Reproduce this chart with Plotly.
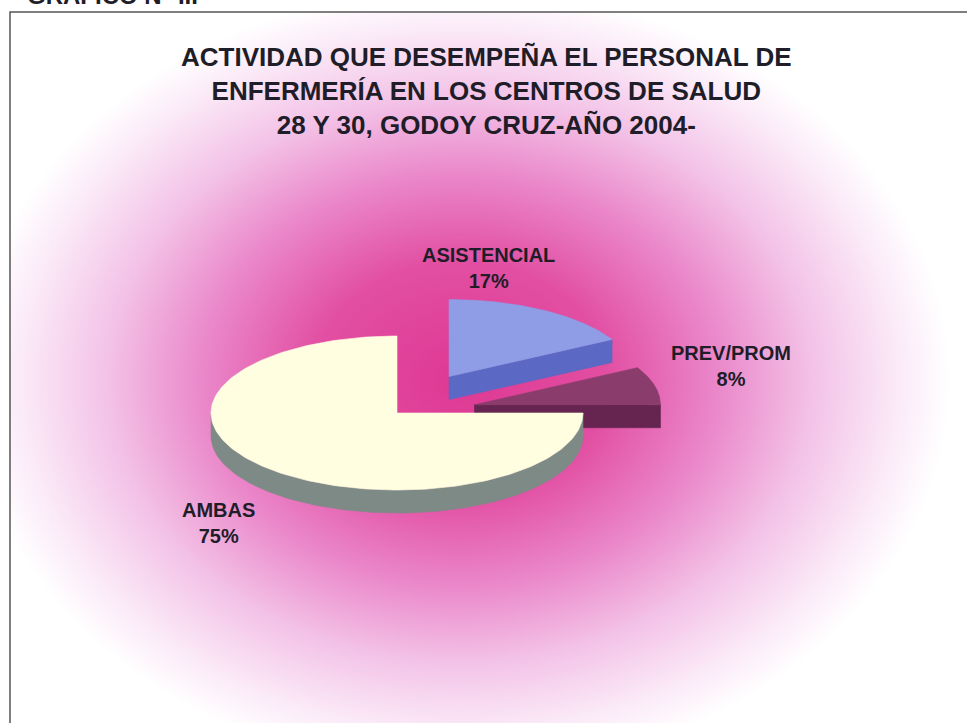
import base64
import numpy as np
import plotly.graph_objects as go

# ---------------- data ----------------
categories = ["ASISTENCIAL", "PREV/PROM", "AMBAS"]
percent = [17, 8, 75]
title_lines = [
    "ACTIVIDAD QUE DESEMPEÑA EL PERSONAL DE",
    "ENFERMERÍA EN LOS CENTROS DE SALUD",
    "28 Y 30, GODOY CRUZ-AÑO 2004-",
]
header_text = "GRÁFICO N° III"

# ---------------- style ----------------
W, H = 967, 723
CX, CY = 397, 413          # pie centre (px)
RA, RB = 186, 77           # ellipse semi-axes (px)
DEPTH = 23                 # pie thickness (px)
explode = {"ASISTENCIAL": 0.55, "PREV/PROM": 0.43, "AMBAS": 0.0}
top_color = {"ASISTENCIAL": "#8F9CE6", "PREV/PROM": "#8A3D6C", "AMBAS": "#FFFEE0"}
side_color = {"ASISTENCIAL": "#5B68C4", "PREV/PROM": "#652550", "AMBAS": "#7E8A86"}
label_pos = {"ASISTENCIAL": (488, 268), "PREV/PROM": (731, 366), "AMBAS": (218, 523)}
FONT = "Liberation Sans, Arial, sans-serif"
TEXT_COLOR = "#1E1D28"

fig = go.Figure()


def poly(xs, ys, color):
    fig.add_trace(go.Scatter(
        x=list(xs) + [xs[0]], y=list(ys) + [ys[0]], mode="lines",
        fill="toself", fillcolor=color,
        line=dict(color=color, width=0.6),
        hoverinfo="skip", showlegend=False))


# angles: start at 12 o'clock, clockwise
slices = []
acc = 0.0
for cat, p in zip(categories, percent):
    th_hi = 90.0 - acc * 3.6
    th_lo = th_hi - p * 3.6
    acc += p
    mid = np.radians((th_hi + th_lo) / 2)
    e = explode[cat]
    ox = e * RA * np.cos(mid)
    oy = -e * RB * np.sin(mid)
    slices.append(dict(cat=cat, lo=th_lo, hi=th_hi, vx=CX + ox, vy=CY + oy))

# painter's order: back (smaller y) first
slices.sort(key=lambda s: s["vy"])

for s in slices:
    vx, vy, cat = s["vx"], s["vy"], s["cat"]
    th = np.radians(np.linspace(s["lo"], s["hi"], 200))
    ax = vx + RA * np.cos(th)
    ay = vy - RB * np.sin(th)
    # outer curved side (front-facing part)
    front = np.sin(th) <= 1e-9
    idx = np.where(front)[0]
    if len(idx) > 1:
        runs = np.split(idx, np.where(np.diff(idx) != 1)[0] + 1)
        for r in runs:
            if len(r) < 2:
                continue
            xs = np.concatenate([ax[r], ax[r][::-1]])
            ys = np.concatenate([ay[r], ay[r][::-1] + DEPTH])
            poly(xs, ys, side_color[cat])
    # cut faces
    for ang, vis in ((s["lo"], np.cos(np.radians(s["lo"])) > 1e-6),
                     (s["hi"], np.cos(np.radians(s["hi"])) < -1e-6)):
        if vis:
            px = vx + RA * np.cos(np.radians(ang))
            py = vy - RB * np.sin(np.radians(ang))
            poly([vx, px, px, vx], [vy, py, py + DEPTH, vy + DEPTH], side_color[cat])
    # top face
    poly(np.concatenate([[vx], ax]), np.concatenate([[vy], ay]), top_color[cat])

# labels
for cat, p in zip(categories, percent):
    lx, ly = label_pos[cat]
    fig.add_annotation(x=lx, y=ly, xref="x", yref="y", showarrow=False,
                       text=f"<b>{cat}<br>{p}%</b>", align="center",
                       font=dict(family=FONT, size=20, color=TEXT_COLOR))

# title
fig.add_annotation(x=486, y=91, xref="x", yref="y", showarrow=False,
                   text="<b>" + "<br>".join(title_lines) + "</b>", align="center",
                   yanchor="middle",
                   font=dict(family=FONT, size=26, color=TEXT_COLOR))
# cut-off header at top
fig.add_annotation(x=25, y=11, xref="x", yref="y", showarrow=False,
                   text=f"<b>{header_text}</b>", xanchor="left", yanchor="bottom",
                   font=dict(family=FONT, size=24, color=TEXT_COLOR))

# background radial gradient
svg = f'''<svg xmlns="http://www.w3.org/2000/svg" width="{W}" height="{H}" viewBox="0 0 {W} {H}">
<defs><radialGradient id="g" cx="460" cy="380" r="490" gradientUnits="userSpaceOnUse"
 gradientTransform="translate(460 380) scale(1 0.8) translate(-460 -380)">
<stop offset="0" stop-color="#DE3893"/>
<stop offset="0.3" stop-color="#E24FA2"/>
<stop offset="0.52" stop-color="#EA86C9"/>
<stop offset="0.72" stop-color="#F3C2E7"/>
<stop offset="0.9" stop-color="#FBEBF8"/>
<stop offset="1" stop-color="#FFFFFF"/>
</radialGradient></defs>
<rect x="0" y="0" width="{W}" height="{H}" fill="#FFFFFF"/>
<rect x="10" y="12" width="{W}" height="{H}" fill="url(#g)"/>
</svg>'''
src = "data:image/svg+xml;base64," + base64.b64encode(svg.encode()).decode()
fig.add_layout_image(dict(source=src, xref="paper", yref="paper", x=0, y=1,
                          sizex=1, sizey=1, xanchor="left", yanchor="top",
                          sizing="stretch", layer="below"))

# frame
fig.add_shape(type="rect", xref="x", yref="y", x0=10, y0=12, x1=W + 40, y1=H + 40,
              line=dict(color="#555555", width=1.5))

fig.update_layout(
    width=W, height=H, margin=dict(l=0, r=0, t=0, b=0),
    paper_bgcolor="white", plot_bgcolor="rgba(0,0,0,0)",
    xaxis=dict(range=[0, W], visible=False, fixedrange=True),
    yaxis=dict(range=[H, 0], visible=False, fixedrange=True),
    showlegend=False,
)
fig.write_html("out.html", config={"displayModeBar": False},
               post_script="document.body.style.margin='0';document.body.style.overflow='hidden';")
